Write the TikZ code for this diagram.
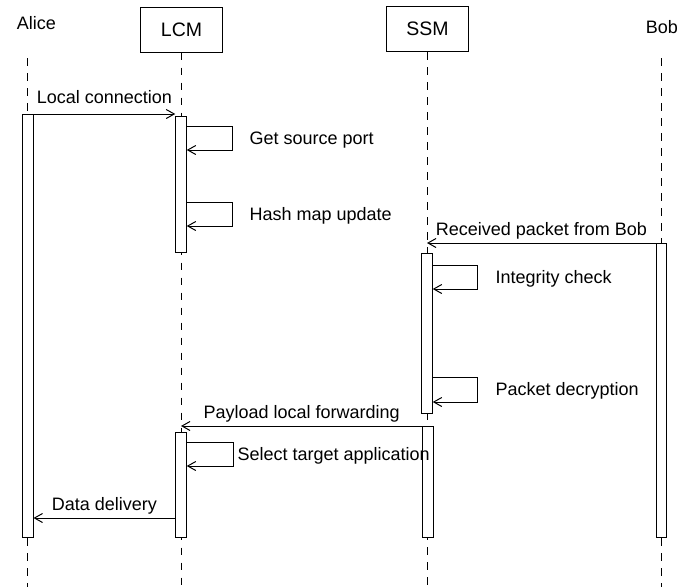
\documentclass[tikz,border=0pt]{standalone}
\usepackage{fontspec}
\setmainfont{Liberation Sans}
\usepackage{tikz}
\usetikzlibrary{arrows.meta, calc}

\begin{document}
\begin{tikzpicture}[x=1pt, y=-1pt, line width=1pt,
    every node/.style={font=\fontsize{18}{21}\selectfont},
    actorbox/.style={draw, minimum width=82pt, minimum height=45pt,
      inner sep=0pt, font=\fontsize{19.5}{23}\selectfont},
    lifeline/.style={dash pattern=on 7.5pt off 7.5pt},
    actbar/.style={draw, fill=white, minimum width=10.5pt,
      inner sep=0pt, anchor=north},
    msg/.style={-{Straight Barb[length=8pt, width=9pt]}},
    msglabel/.style={anchor=base, yshift=8pt},
    selflabel/.style={anchor=base west, yshift=-6pt}]
  \useasboundingbox (0,0) rectangle (686,587);
  % Participants
  \node[anchor=base west] (alice) at (13,29) {Alice};
  \node[actorbox] (lcm) at (181.5,29.5) {LCM};
  \node[actorbox] (ssm) at (427.5,29) {SSM};
  \node[anchor=base west] (bob) at (642,33) {Bob};
  % Lifelines
  \coordinate (aliceTop) at (27.5,58);
  \coordinate (aliceEnd) at (27.5,587);
  \coordinate (bobTop) at (661.5,58);
  \coordinate (bobEnd) at (661.5,587);
  \draw[lifeline] (aliceTop) -- (aliceEnd);
  \draw[lifeline] (lcm.south) -- (lcm.south |- aliceEnd);
  \draw[lifeline] (ssm.south) -- (ssm.south |- aliceEnd);
  \draw[lifeline] (bobTop) -- (bobEnd);
  % Activation bars
  \node[actbar, minimum height=423pt] (aliceBar) at (27.75,114) {};
  \node[actbar, minimum height=136pt] (lcmBarA) at (181,116) {};
  \node[actbar, minimum height=105pt] (lcmBarB) at (181,432) {};
  \node[actbar, minimum height=160pt] (ssmBarA) at (427,253) {};
  \node[actbar, minimum height=111pt] (ssmBarB) at (428,426) {};
  \node[actbar, minimum height=294pt] (bobBar) at (661.5,243) {};
  % Alice -> LCM
  \draw[msg] (aliceBar.north east) -- (aliceBar.north east -| lcmBarA.west)
    node[msglabel, midway, yshift=2.5pt] {Local connection};
  % LCM self calls
  \draw[msg] ($(lcmBarA.north east)+(0,10)$) -- ++(46,0) -- ++(0,24)
    node[selflabel, midway, xshift=13pt] {Get source port} -- ++(-46,0);
  \draw[msg] ($(lcmBarA.north east)+(0,86)$) -- ++(46,0) -- ++(0,24)
    node[selflabel, midway, xshift=13pt] {Hash map update} -- ++(-46,0);
  % Bob -> SSM
  \draw[msg] (bobBar.north west) -- (bobBar.north west -| ssmBarA.north)
    node[msglabel, midway] {Received packet from Bob};
  % SSM self calls
  \draw[msg] ($(ssmBarA.north east)+(0,12)$) -- ++(45,0) -- ++(0,24)
    node[selflabel, midway, xshift=14pt] {Integrity check} -- ++(-45,0);
  \draw[msg] ($(ssmBarA.north east)+(0,124)$) -- ++(45,0) -- ++(0,25)
    node[selflabel, midway, xshift=14pt] {Packet decryption} -- ++(-45,0);
  % SSM -> LCM
  \draw[msg] (ssmBarB.north west) -- (ssmBarB.north west -| lcmBarB.north)
    node[msglabel, midway] {Payload local forwarding};
  % LCM self call
  \draw[msg] ($(lcmBarB.north east)+(0,10)$) -- ++(47,0) -- ++(0,24)
    node[selflabel, midway, xshift=0pt] {Select target application} -- ++(-47,0);
  % LCM -> Alice
  \coordinate (ddStart) at ($(lcmBarB.south west)+(0,-20)$);
  \draw[msg] (ddStart) -- (ddStart -| aliceBar.east)
    node[msglabel, midway] {Data delivery};
\end{tikzpicture}
\end{document}
